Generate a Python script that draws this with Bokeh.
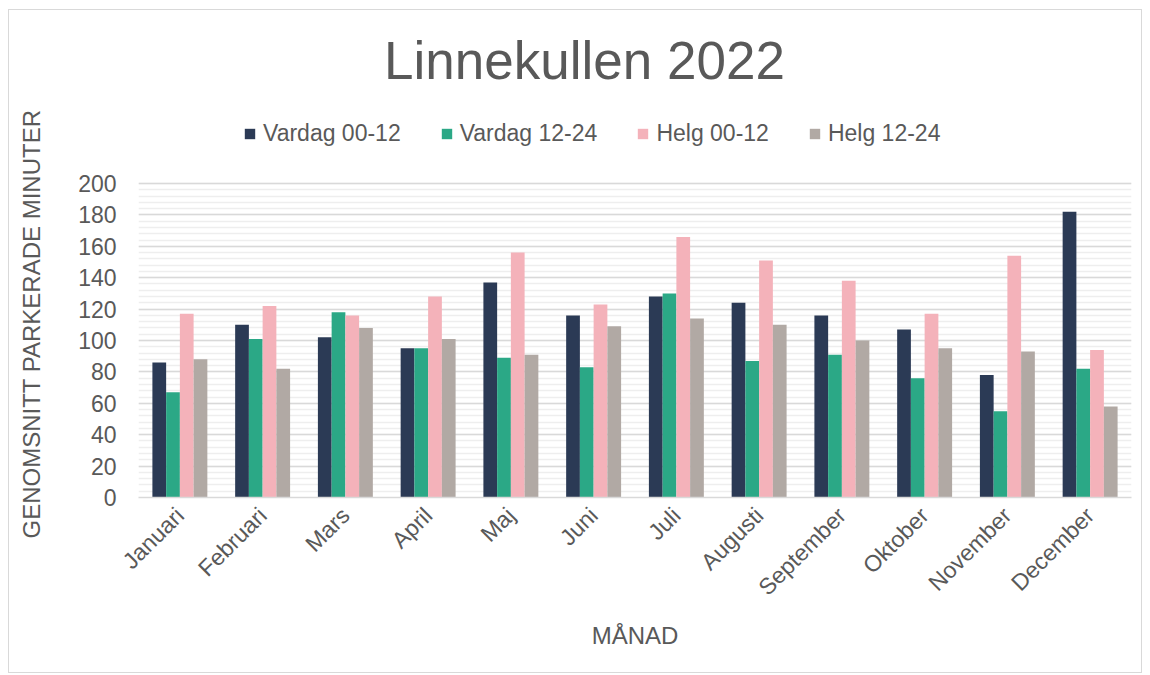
import math
from bokeh.plotting import figure
from bokeh.layouts import row
from bokeh.models import (ColumnDataSource, FactorRange, Range1d, SingleIntervalTicker,
                          Legend, LegendItem, Label, Title)
from bokeh.transform import dodge
from bokeh.embed import file_html
from bokeh.resources import INLINE

# ---- data ----
months = ["Januari", "Februari", "Mars", "April", "Maj", "Juni", "Juli",
          "Augusti", "September", "Oktober", "November", "December"]
vardag_00_12 = [86, 110, 102, 95, 137, 116, 128, 124, 116, 107, 78, 182]
vardag_12_24 = [67, 101, 118, 95, 89, 83, 130, 87, 91, 76, 55, 82]
helg_00_12 = [117, 122, 116, 128, 156, 123, 166, 151, 138, 117, 154, 94]
helg_12_24 = [88, 82, 108, 101, 91, 109, 114, 110, 100, 95, 93, 58]
series_names = ["Vardag 00-12", "Vardag 12-24", "Helg 00-12", "Helg 12-24"]
title_text = "Linnekullen 2022"
x_title = "MÅNAD"
y_title = "GENOMSNITT PARKERADE MINUTER"

colors = ["#2B3A55", "#2BA886", "#F4B2BA", "#B1A9A4"]
TEXT = "#595959"
FONT = "Liberation Sans"

# layout (pixels)
H = 662
LEFT_W = 60                      # strip holding the vertical y title
W = 1132 - LEFT_W
BOTTOM, LEFT, RIGHT = 175, 69, 10
FRAME_H = H - BOTTOM             # frame spans the title/legend area too
PX_PER_UNIT = 314 / 200          # 0..200 occupies 314 px
Y_END = FRAME_H / PX_PER_UNIT

# ---- left strip with the y-axis title ----
side = figure(width=LEFT_W, height=H, x_range=Range1d(0, 1), y_range=Range1d(0, 1),
              output_backend="svg", toolbar_location=None,
              x_axis_location=None, y_axis_location=None,
              min_border_left=0, min_border_right=0, min_border_top=0,
              min_border_bottom=BOTTOM)
side.grid.visible = False
side.outline_line_color = None
side.title.text = ""
side.add_layout(Title(text=y_title, align="left", offset=-41, standoff=13,
                      text_font_size="24px", text_font_style="normal",
                      text_color=TEXT, text_font=FONT), "left")

# ---- main chart ----
source = ColumnDataSource(dict(months=months, s0=vardag_00_12, s1=vardag_12_24,
                               s2=helg_00_12, s3=helg_12_24))

p = figure(x_range=FactorRange(factors=months, range_padding=0),
           y_range=Range1d(0, Y_END),
           width=W, height=H,
           output_backend="svg", toolbar_location=None,
           min_border_left=LEFT, min_border_right=RIGHT,
           min_border_top=0, min_border_bottom=BOTTOM)
p.outline_line_color = None
p.background_fill_color = "white"
p.border_fill_color = "white"

offsets = [-0.249, -0.083, 0.083, 0.249]
renderers = []
for i, off in enumerate(offsets):
    r = p.vbar(x=dodge("months", off, range=p.x_range), top="s%d" % i, width=0.166,
               source=source, fill_color=colors[i], line_color=None)
    renderers.append(r)

# axes
ticker = SingleIntervalTicker(interval=20, num_minor_ticks=5)
p.yaxis.ticker = ticker
p.ygrid.ticker = ticker
p.yaxis.bounds = (0, 200)
p.ygrid.bounds = (0, 200)
p.yaxis.axis_line_color = None
p.yaxis.major_tick_line_color = None
p.yaxis.minor_tick_line_color = None
p.yaxis.major_label_standoff = 16
p.yaxis.major_label_text_font_size = "23px"
p.yaxis.major_label_text_color = TEXT
p.yaxis.major_label_text_font = FONT

p.xaxis.axis_line_color = "#d9d9d9"
p.xaxis.axis_line_width = 1.5
p.xaxis.major_tick_line_color = None
p.xaxis.minor_tick_line_color = None
p.xaxis.major_label_orientation = math.pi / 4
p.xaxis.major_label_standoff = 8
p.xaxis.major_label_text_font_size = "23px"
p.xaxis.major_label_text_color = TEXT
p.xaxis.major_label_text_font = FONT
p.xaxis.axis_label = x_title
p.xaxis.axis_label_text_font_size = "24px"
p.xaxis.axis_label_text_font_style = "normal"
p.xaxis.axis_label_text_color = TEXT
p.xaxis.axis_label_text_font = FONT
p.xaxis.axis_label_standoff = 10

p.xgrid.grid_line_color = None
p.ygrid.grid_line_color = "#d9d9d9"
p.ygrid.grid_line_width = 1.3
p.ygrid.minor_grid_line_color = "#eeeeee"
p.ygrid.minor_grid_line_width = 1.3

# chart title (inside the tall frame, above the 0..200 grid)
p.add_layout(Label(x=446, y=437, x_units="screen", y_units="screen", text=title_text,
                   text_align="center", text_baseline="alphabetic",
                   text_font_size="53px", text_color=TEXT, text_font=FONT))

legend = Legend(items=[LegendItem(label=n, renderers=[r]) for n, r in zip(series_names, renderers)],
                location=(105, 350), orientation="horizontal",
                glyph_width=13, glyph_height=13, label_standoff=7, spacing=39,
                padding=0, margin=0, border_line_color=None, background_fill_alpha=0,
                label_text_font_size="23px", label_text_color=TEXT, label_text_font=FONT)
p.add_layout(legend)

layout = row(side, p)
layout.styles = {"border": "1px solid #d9d9d9", "margin-left": "8px", "margin-top": "9px"}

open("out.html", "w").write(file_html(layout, INLINE))
